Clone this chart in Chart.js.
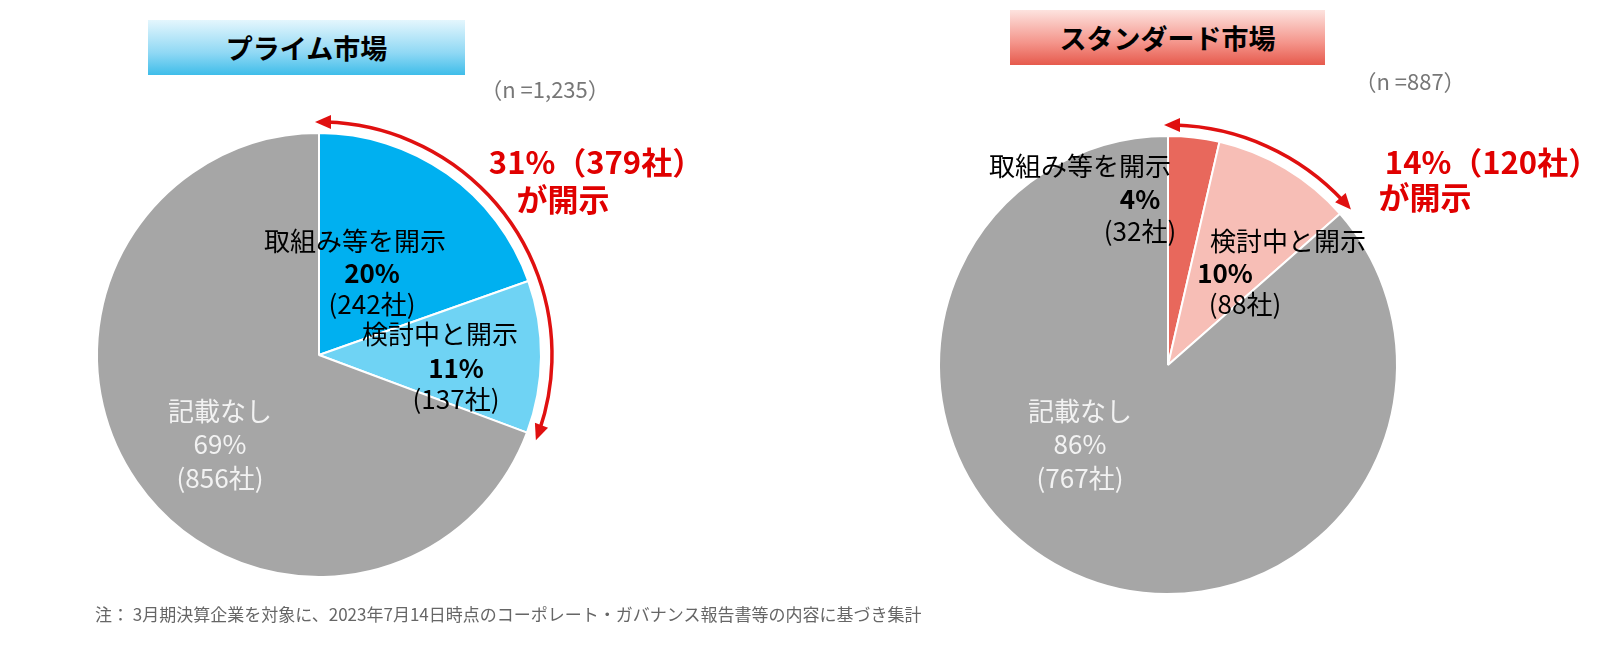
<!DOCTYPE html>
<html><head><meta charset="utf-8">
<script src="https://cdn.jsdelivr.net/npm/chart.js@4/dist/chart.umd.min.js"></script>
<style>
body{margin:0;width:1600px;height:650px;background:#fff;position:relative;overflow:hidden;font-family:"Noto Sans CJK JP","Noto Sans",sans-serif}
canvas{position:absolute;top:0}
.t{position:absolute;transform:translate(-50%,-50%);white-space:nowrap;line-height:1}
.box{position:absolute;display:flex;align-items:center;justify-content:center;font-weight:bold;font-size:27px;color:#000}
</style></head><body>
<div style="position:absolute;left:0;top:0;width:800px;height:650px"><canvas id="c1"></canvas></div>
<div style="position:absolute;left:800px;top:0;width:800px;height:650px"><canvas id="c2"></canvas></div>
<div id="txt"></div>
<script>
const primeLabels = ["取組み等を開示", "検討中と開示", "記載なし"];
const primeCounts = [242, 137, 856];
const primePct = [20, 11, 69];
const stdLabels = ["取組み等を開示", "検討中と開示", "記載なし"];
const stdCounts = [32, 88, 767];
const stdPct = [4, 10, 86];

const arcPlugin = {
  id: "arcArrow",
  afterDraw(chart) {
    const meta = chart.getDatasetMeta(0);
    const a0 = meta.data[0], a1 = meta.data[1];
    const cx = a0.x, cy = a0.y, R = a0.outerRadius + 11;
    const s = a0.startAngle, e = a1.endAngle;
    const ctx = chart.ctx;
    ctx.save();
    ctx.strokeStyle = "#e01010"; ctx.fillStyle = "#e01010"; ctx.lineWidth = 3.5;
    ctx.beginPath(); ctx.arc(cx, cy, R, s + 0.03, e - 0.03); ctx.stroke();
    const head = (ang, dir) => {
      const px = cx + R * Math.cos(ang), py = cy + R * Math.sin(ang);
      const tx = -Math.sin(ang) * dir, ty = Math.cos(ang) * dir;
      const nx = -ty, ny = tx;
      ctx.beginPath();
      ctx.moveTo(px + tx * 4, py + ty * 4);
      ctx.lineTo(px - tx * 12 + nx * 7, py - ty * 12 + ny * 7);
      ctx.lineTo(px - tx * 12 - nx * 7, py - ty * 12 - ny * 7);
      ctx.closePath(); ctx.fill();
    };
    head(s, -1); head(e, 1);
    ctx.restore();
  }
};

function makePie(id, counts, labels, colors, pad) {
  return new Chart(document.getElementById(id), {
    type: "pie",
    data: { labels: labels, datasets: [{ data: counts, backgroundColor: colors, borderColor: "#fff", borderWidth: 2 }] },
    options: {
      responsive: true, maintainAspectRatio: false, animation: false,
      layout: { padding: pad },
      plugins: { legend: { display: false }, tooltip: { enabled: false } }
    },
    plugins: [arcPlugin]
  });
}
makePie("c1", primeCounts, primeLabels, ["#00b0f0", "#6fd3f4", "#a6a6a6"], { left: 96, right: 258, top: 131, bottom: 71 });
makePie("c2", stdCounts, stdLabels, ["#e8685c", "#f7beb6", "#a6a6a6"], { left: 138, right: 202, top: 135, bottom: 55 });

const F = 26;
const texts = [
  ["取組み等を開示", 355, 240, F, "#000", false],
  [primePct[0] + "%", 372, 272, F, "#000", true],
  ["(" + primeCounts[0] + "社)", 372, 303, F, "#000", false],
  ["検討中と開示", 440, 333, F, "#000", false],
  [primePct[1] + "%", 456, 367, F, "#000", true],
  ["(" + primeCounts[1] + "社)", 456, 398, F, "#000", false],
  ["記載なし", 220, 410, F, "#f2f2f2", false],
  [primePct[2] + "%", 220, 443, F, "#f2f2f2", false],
  ["(" + primeCounts[2] + "社)", 220, 477, F, "#f2f2f2", false],
  ["31%（379社）", 596, 160, 31, "#e00000", true],
  ["が開示", 563, 197, 31, "#e00000", true],
  ["（n =1,235）", 545, 88, 22, "#777", false],
  ["取組み等を開示", 1080, 165, F, "#000", false],
  [stdPct[0] + "%", 1140, 198, F, "#000", true],
  ["(" + stdCounts[0] + "社)", 1140, 230, F, "#000", false],
  ["検討中と開示", 1288, 240, F, "#000", false],
  [stdPct[1] + "%", 1225, 272, F, "#000", true],
  ["(" + stdCounts[1] + "社)", 1245, 303, F, "#000", false],
  ["記載なし", 1080, 410, F, "#f2f2f2", false],
  [stdPct[2] + "%", 1080, 443, F, "#f2f2f2", false],
  ["(" + stdCounts[2] + "社)", 1080, 477, F, "#f2f2f2", false],
  ["14%（120社）", 1492, 160, 31, "#e00000", true],
  ["が開示", 1425, 195, 31, "#e00000", true],
  ["（n =887）", 1410, 80, 22, "#777", false]
];
const box = document.getElementById("txt");
texts.forEach(([s, x, y, f, c, b]) => {
  const d = document.createElement("div");
  d.className = "t"; d.textContent = s;
  d.style.cssText = `left:${x}px;top:${y}px;font-size:${f}px;color:${c};font-weight:${b ? "bold" : "normal"}`;
  box.appendChild(d);
});
box.insertAdjacentHTML("beforeend",
  '<div class="box" style="left:148px;top:20px;width:317px;height:55px;background:linear-gradient(#e4f6fd,#8fd8f4 60%,#3fbde9)">プライム市場</div>' +
  '<div class="box" style="left:1010px;top:10px;width:315px;height:55px;background:linear-gradient(#fde3df,#f4948a 60%,#e65a4d)">スタンダード市場</div>' +
  '<div style="position:absolute;left:95px;top:601px;font-size:17px;color:#666">注： 3月期決算企業を対象に、2023年7月14日時点のコーポレート・ガバナンス報告書等の内容に基づき集計</div>');
</script>
</body></html>
